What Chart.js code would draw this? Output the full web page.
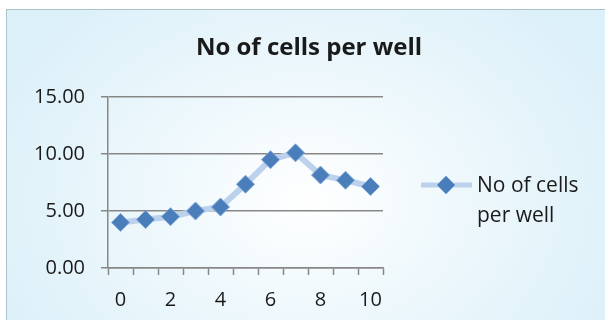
<!DOCTYPE html>
<html lang="en">
<head>
    <meta charset="UTF-8">
    <title>No of cells per well</title>
    <script src="https://cdn.jsdelivr.net/npm/chart.js"></script>
    <style>
        html, body { margin: 0; padding: 0; background: #fff; }
        .wrap { position: relative; width: 605px; height: 320px; overflow: hidden; }
        .panel {
            position: absolute; left: 6px; top: 9px; width: 620px; height: 330px;
            border: 1.5px solid #a9c3c6;
            background: radial-gradient(ellipse 340px 260px at 300px 190px, #ffffff 0%, #eef8fc 45%, #dcf0f9 100%);
        }
        canvas { position: absolute; left: 0; top: 0; }
    </style>
</head>
<body>
    <div class="wrap">
        <div class="panel"></div>
        <canvas id="cellsChart" width="605" height="320"></canvas>
    </div>

    <script>
        // data
        const dayLabels = ['0', '1', '2', '3', '4', '5', '6', '7', '8', '9', '10'];
        const cellsPerWell = [4.0, 4.25, 4.5, 5.0, 5.35, 7.35, 9.5, 10.1, 8.15, 7.7, 7.15];
        const seriesName = 'No of cells per well';
        const legendLines = ['No of cells', 'per well'];

        const FONT = "'Open Sans', 'Liberation Sans', sans-serif";
        const lineColor = '#bcd1ec';
        const markerFill = '#4a7ebb';
        const markerEdge = '#7ea7d8';
        const axisGray = '#878787';

        // title and wrapped legend drawn by hand, like Excel does it
        const titleAndLegend = {
            id: 'titleAndLegend',
            afterDraw(chart) {
                const ctx = chart.ctx;
                ctx.save();
                ctx.fillStyle = '#1a1a1a';
                ctx.font = "bold 24px " + FONT;
                ctx.textAlign = 'center';
                ctx.textBaseline = 'middle';
                ctx.fillText(seriesName, 309, 48);

                // legend sample line + marker
                const ly = 185;
                ctx.strokeStyle = lineColor;
                ctx.lineWidth = 5;
                ctx.beginPath();
                ctx.moveTo(421, ly);
                ctx.lineTo(472, ly);
                ctx.stroke();
                ctx.fillStyle = markerFill;
                ctx.strokeStyle = markerEdge;
                ctx.lineWidth = 1;
                ctx.beginPath();
                ctx.moveTo(446, ly - 9);
                ctx.lineTo(455, ly);
                ctx.lineTo(446, ly + 9);
                ctx.lineTo(437, ly);
                ctx.closePath();
                ctx.fill();
                ctx.stroke();

                ctx.fillStyle = '#1a1a1a';
                ctx.font = "21px " + FONT;
                ctx.textAlign = 'left';
                legendLines.forEach((t, i) => ctx.fillText(t, 477, ly + 1 + i * 30));
                ctx.restore();
            }
        };

        new Chart(document.getElementById('cellsChart'), {
            type: 'line',
            data: {
                labels: dayLabels,
                datasets: [{
                    label: seriesName,
                    data: cellsPerWell,
                    borderColor: lineColor,
                    borderWidth: 6,
                    tension: 0,
                    fill: false,
                    pointStyle: 'rectRot',
                    pointRadius: 9,
                    pointHoverRadius: 9,
                    pointBackgroundColor: markerFill,
                    pointBorderColor: markerEdge,
                    pointBorderWidth: 1
                }]
            },
            options: {
                responsive: false,
                animation: false,
                layout: { padding: { left: 13, top: 97, right: 222, bottom: 0 } },
                plugins: {
                    legend: { display: false },
                    title: { display: false },
                    tooltip: { enabled: false }
                },
                scales: {
                    x: {
                        type: 'category',
                        offset: true,
                        grid: {
                            offset: true,
                            drawOnChartArea: false,
                            drawTicks: true,
                            tickLength: 7,
                            tickColor: axisGray,
                            tickWidth: 1.5
                        },
                        border: { color: axisGray, width: 1.5 },
                        ticks: {
                            autoSkip: false,
                            maxRotation: 0,
                            padding: 13,
                            color: '#1a1a1a',
                            font: { family: FONT, size: 20 },
                            callback: (v, i) => (i % 2 === 0 ? dayLabels[i] : '')
                        },
                        afterFit: s => { s.height = 52; }
                    },
                    y: {
                        min: 0,
                        max: 15,
                        ticks: {
                            stepSize: 5,
                            padding: 16,
                            color: '#1a1a1a',
                            font: { family: FONT, size: 20 },
                            callback: v => v.toFixed(2)
                        },
                        grid: {
                            color: axisGray,
                            lineWidth: 1.5,
                            tickLength: 7,
                            drawTicks: true
                        },
                        border: { color: axisGray, width: 1.5 },
                        afterFit: s => { s.width = 95; }
                    }
                }
            },
            plugins: [titleAndLegend]
        });
    </script>
</body>
</html>
